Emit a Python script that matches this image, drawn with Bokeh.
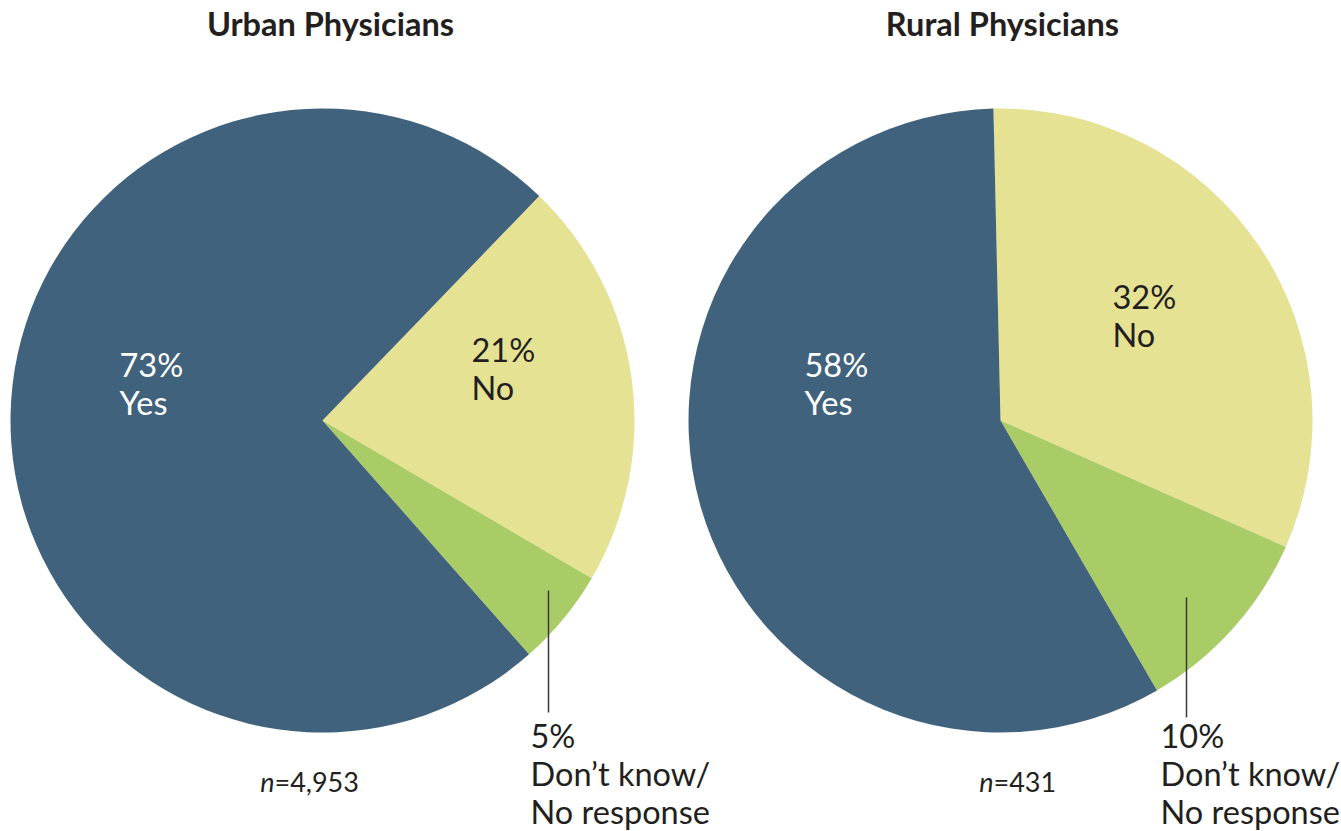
import math
from bokeh.plotting import figure
from bokeh.models import Range1d
from bokeh.core.properties import value
from bokeh.embed import file_html
from bokeh.resources import INLINE

# Survey responses, percent of physicians
categories = ["No", "Don\u2019t know/\nNo response", "Yes"]
urban_pct = [21, 5, 73]
rural_pct = [32, 10, 58]
urban_n = 4953
rural_n = 431
titles = ["Urban Physicians", "Rural Physicians"]

colors = ["#E6E294", "#AACC66", "#41627C"]

W, H = 1341, 831
FONT = "Lato"

p = figure(width=W, height=H, output_backend="svg", toolbar_location=None,
           x_range=Range1d(0, W), y_range=Range1d(0, H), min_border=0)
p.axis.visible = False
p.grid.visible = False
p.outline_line_color = None
p.background_fill_color = "white"
p.border_fill_color = "white"


def Y(py):
    return H - py


def pie(cx, cy, r, start_deg, pcts):
    total = sum(pcts)
    a = math.radians(start_deg)
    for pct, col in zip(pcts, colors):
        span = 2 * math.pi * pct / total
        p.wedge(x=[cx], y=[Y(cy)], radius=r, start_angle=a - span, end_angle=a,
                fill_color=col, line_color=None)
        a -= span


def label(x, y, lines, color, size="32.5px"):
    for i, t in enumerate(lines):
        p.text(x=[x], y=[Y(y + i * 38)], text=[t], text_color=color,
               text_font=value(FONT), text_font_size=size,
               text_baseline="middle", text_align="left")


R = 312
pie(322, 420, R, 46, urban_pct)
pie(1000, 420, R, 91.3, rural_pct)

# titles
for cx, t in zip([330, 1002], titles):
    p.text(x=[cx], y=[Y(23)], text=[t], text_color="#231F20",
           text_font=value(FONT), text_font_style="bold", text_font_size="32.5px",
           text_align="center", text_baseline="middle")

# in-slice labels
label(119, 364, [f"{urban_pct[2]}%", categories[2]], "white")
label(471, 349, [f"{urban_pct[0]}%", categories[0]], "#231F20")
label(804, 364, [f"{rural_pct[2]}%", categories[2]], "white")
label(1112, 296, [f"{rural_pct[0]}%", categories[0]], "#231F20")

# leader lines and outside labels for the small slice
p.segment(x0=[548, 1186], y0=[Y(590), Y(597)], x1=[548, 1186], y1=[Y(712), Y(717)],
          line_color="#3A3A3A", line_width=1.5)
label(530, 735, [f"{urban_pct[1]}%"] + categories[1].split("\n"), "#231F20")
label(1160, 735, [f"{rural_pct[1]}%"] + categories[1].split("\n"), "#231F20")

# sample sizes
for jx, n in [(274, urban_n), (993, rural_n)]:
    p.text(x=[jx], y=[Y(781)], text=["n"], text_color="#231F20",
           text_font=value(FONT), text_font_style="italic", text_font_size="27px",
           text_align="right", text_baseline="middle")
    p.text(x=[jx], y=[Y(781)], text=[f"={n:,}"], text_color="#231F20",
           text_font=value(FONT), text_font_size="27px",
           text_align="left", text_baseline="middle")

open("out.html", "w").write(file_html(p, INLINE))
